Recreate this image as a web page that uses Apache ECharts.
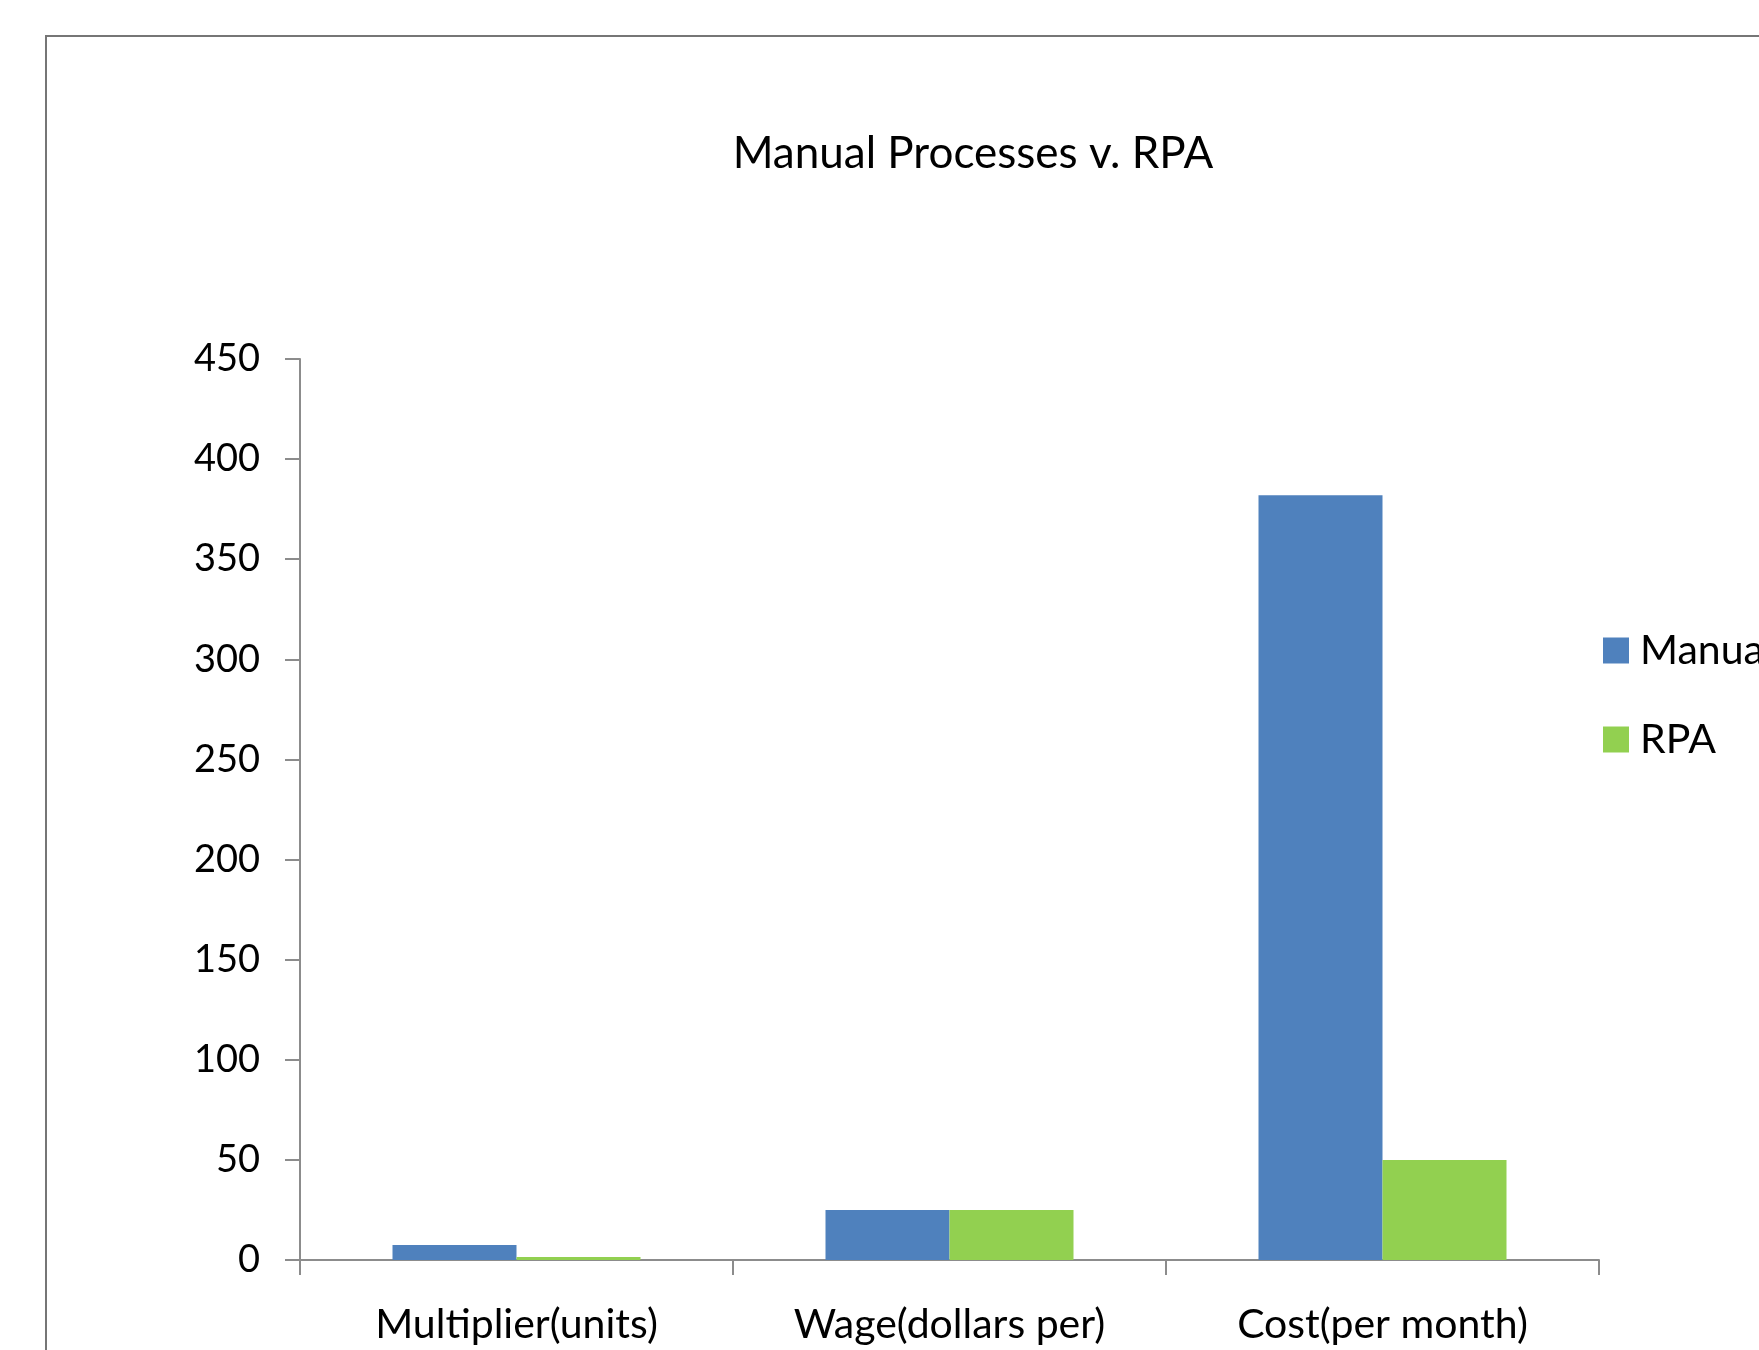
<!DOCTYPE html>
<html>
<head>
<meta charset="utf-8">
<script src="https://cdn.jsdelivr.net/npm/echarts@6/dist/echarts.min.js"></script>
<style>html,body{margin:0;padding:0;background:#fff}#c{width:1759px;height:1350px}</style>
</head>
<body>
<div id="c"></div>
<script>
const categories = ['Multiplier(units)', 'Wage(dollars per)', 'Cost(per month)'];
const manualValues = [7.5, 25, 382];
const rpaValues = [1.5, 25, 50];
const yTicks = { min: 0, max: 450, interval: 50 };

const chart = echarts.init(document.getElementById('c'));
chart.setOption({
  animation: false,
  backgroundColor: '#ffffff',
  textStyle: { fontFamily: 'Lato' },
  title: {
    text: 'Manual Processes v. RPA',
    left: 968, top: 127, textAlign: 'center',
    textStyle: { fontFamily: 'Lato', fontSize: 44, fontWeight: 'normal', color: '#000' }
  },
  graphic: [{
    type: 'rect', z: -1,
    shape: { x: 46, y: 36, width: 1800, height: 1400 },
    style: { fill: 'none', stroke: '#767676', lineWidth: 2 }
  }],
  legend: {
    orient: 'vertical', left: 1598, top: 625,
    itemWidth: 26, itemHeight: 26, itemGap: 48,
    icon: 'rect',
    textStyle: { fontFamily: 'Lato', fontSize: 41, color: '#000', padding: [0, 0, 0, 6] },
    data: ['Manual', 'RPA']
  },
  grid: { left: 300, right: 160, top: 359, bottom: 90 },
  xAxis: {
    type: 'category', data: categories,
    axisLine: { lineStyle: { color: '#8c8c8c', width: 2 } },
    axisTick: { show: true, interval: 0, alignWithLabel: false, length: 15, lineStyle: { color: '#8c8c8c', width: 2 } },
    axisLabel: { fontFamily: 'Lato', fontSize: 41, color: '#000', margin: 44, interval: 0 }
  },
  yAxis: {
    type: 'value', min: yTicks.min, max: yTicks.max, interval: yTicks.interval,
    splitLine: { show: false },
    axisLine: { show: true, lineStyle: { color: '#8c8c8c', width: 2 } },
    axisTick: { show: true, length: 15, lineStyle: { color: '#8c8c8c', width: 2 } },
    axisLabel: { fontFamily: 'Lato', fontSize: 38, color: '#000', margin: 40 }
  },
  series: [
    { name: 'Manual', type: 'bar', data: manualValues, barWidth: 124, barGap: '0%',
      itemStyle: { color: '#4F81BD' } },
    { name: 'RPA', type: 'bar', data: rpaValues, barWidth: 124, barGap: '0%',
      itemStyle: { color: '#92D050' } }
  ]
});
</script>
</body>
</html>
